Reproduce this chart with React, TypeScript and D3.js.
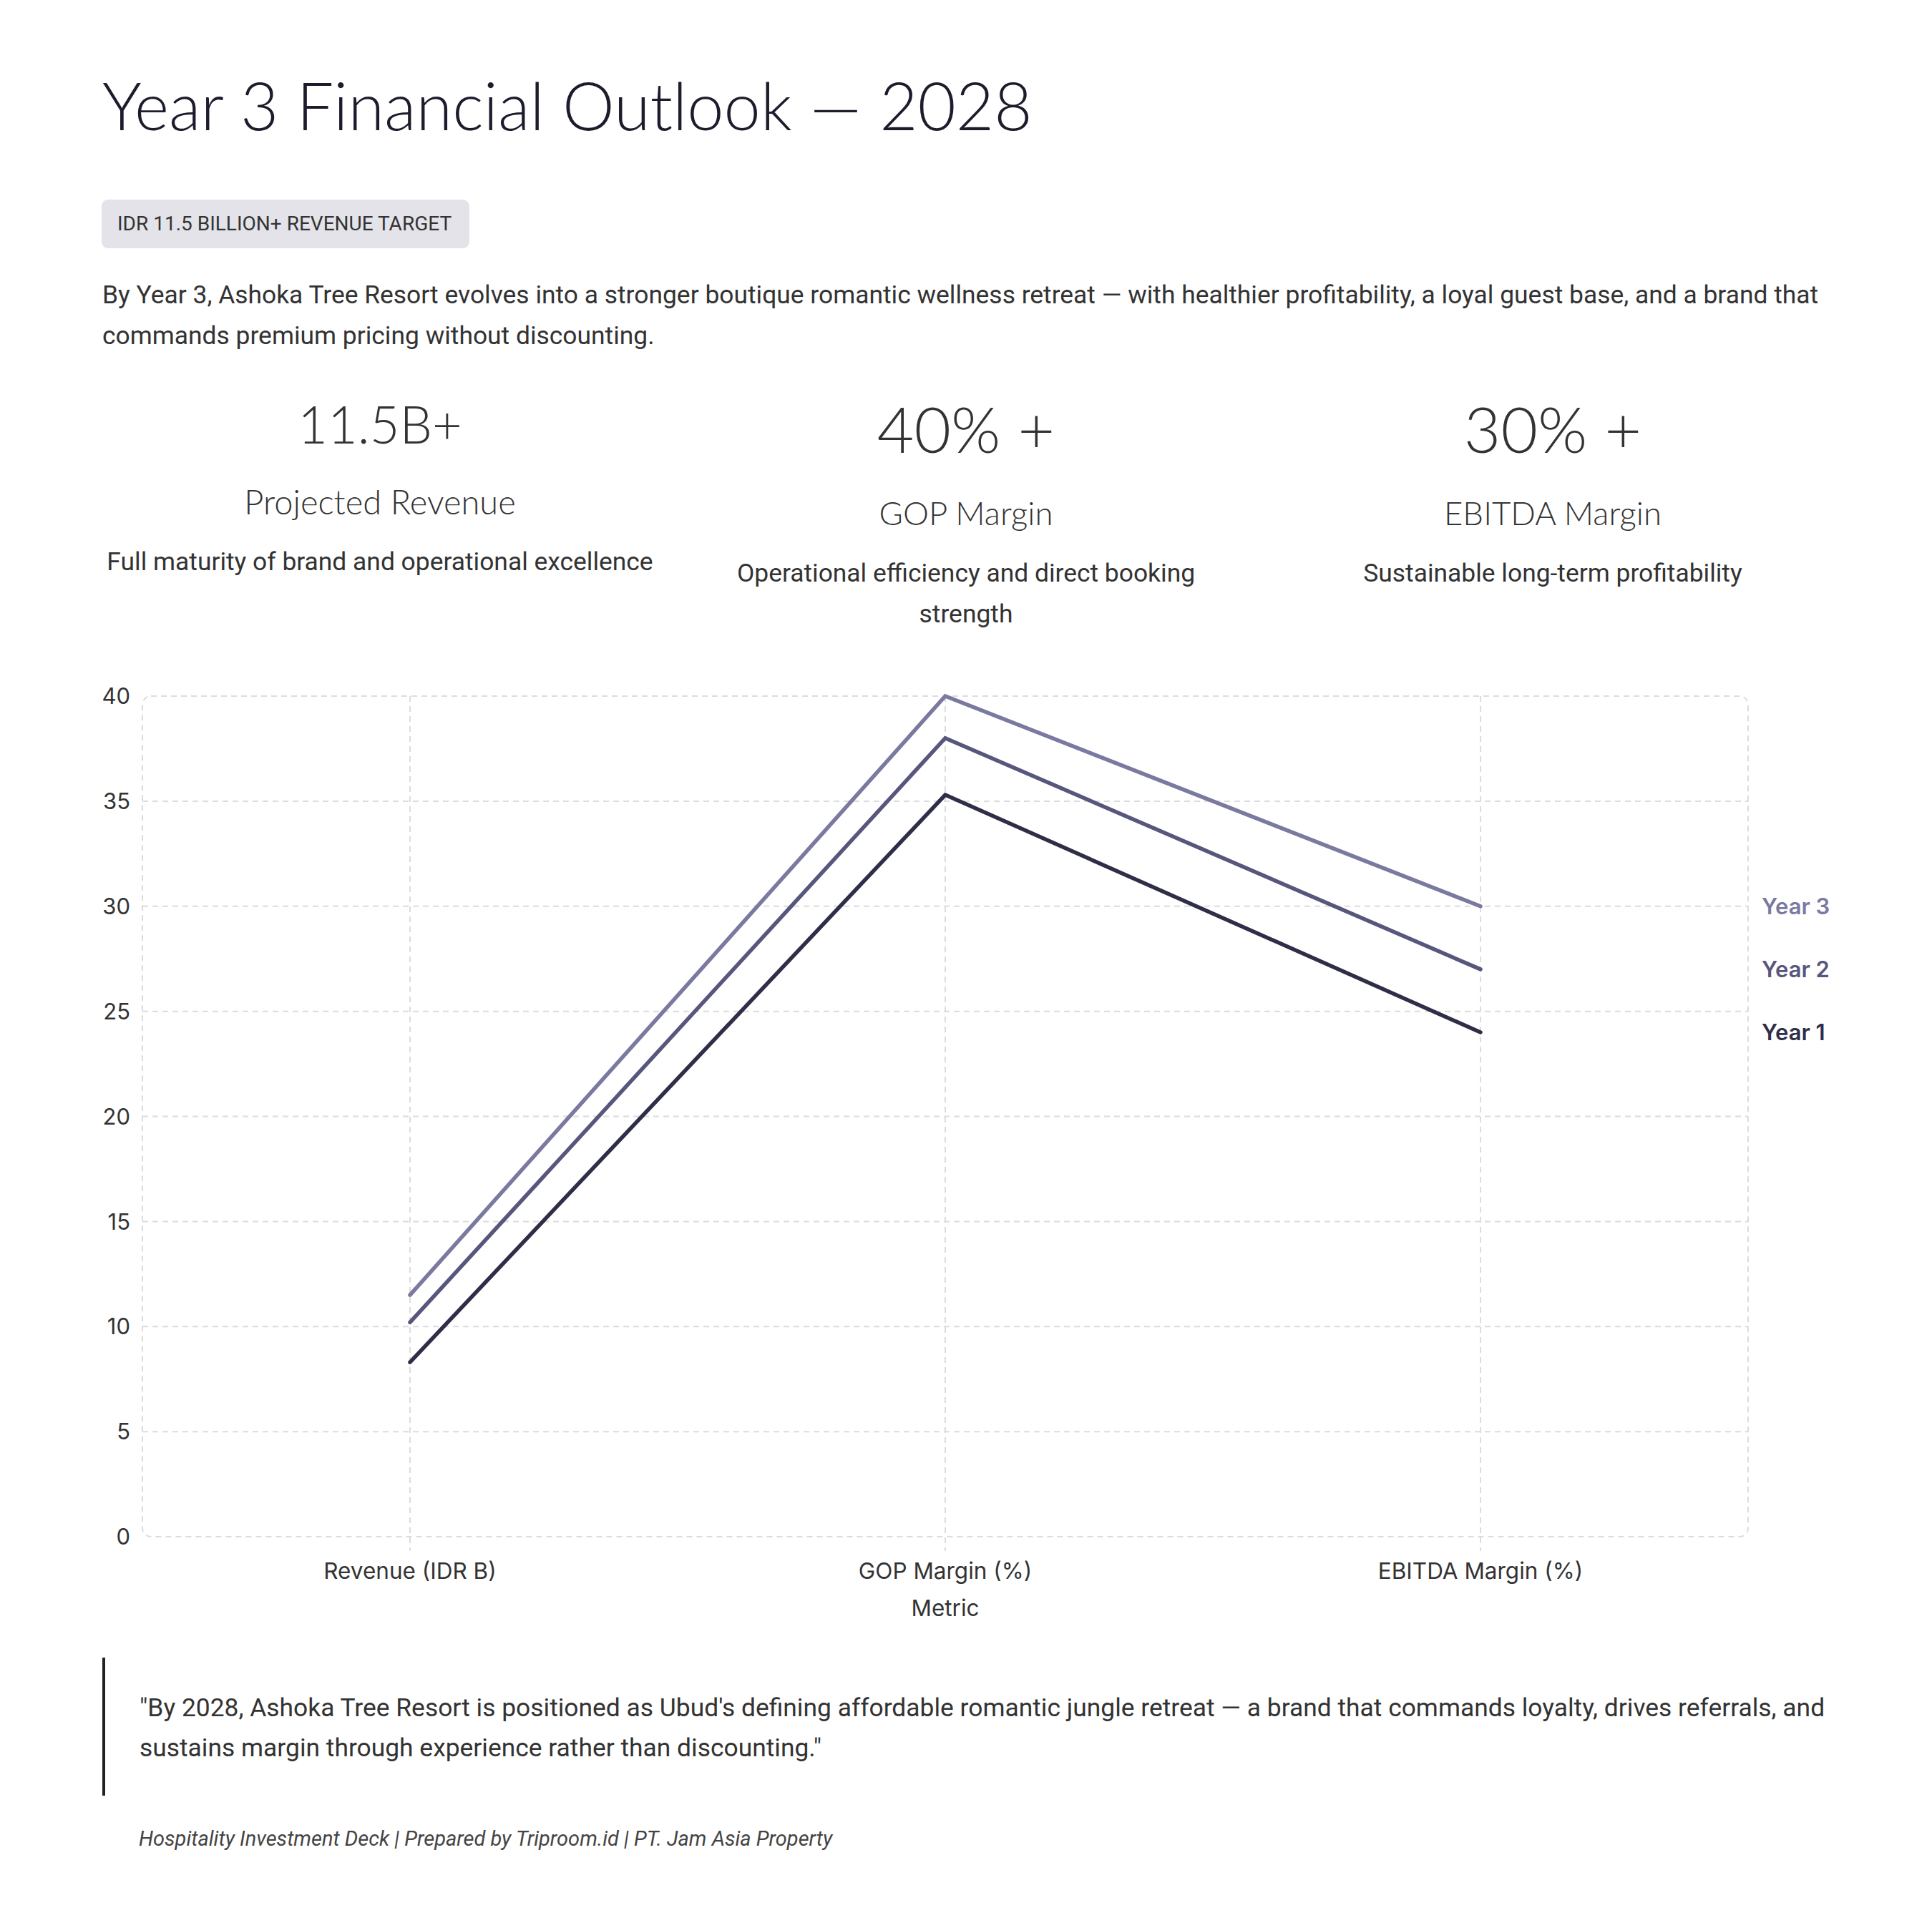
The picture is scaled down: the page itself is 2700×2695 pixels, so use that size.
import React from "react";
import * as d3 from "d3";

const categories = ["Revenue (IDR B)", "GOP Margin (%)", "EBITDA Margin (%)"];
const seriesNames = ["Year 1", "Year 2", "Year 3"];
const year1Values = [8.3, 35.3, 24];
const year2Values = [10.2, 38, 27];
const year3Values = [11.5, 40, 30];
const yTicks = [0, 5, 10, 15, 20, 25, 30, 35, 40];
const seriesColors = ["#2f2e48", "#57567c", "#7a7aa0"];

const kpiValues = ["11.5B+", "40% +", "30% +"];
const kpiLabels = ["Projected Revenue", "GOP Margin", "EBITDA Margin"];
const kpiDescs = [
  ["Full maturity of brand and operational excellence"],
  ["Operational efficiency and direct booking", "strength"],
  ["Sustainable long-term profitability"],
];

const W = 2700;
const H = 2695;
const plot = { left: 199, right: 2443, top: 973, bottom: 2148 };
const grid = "#dcdcdf";
const textDark = "#333333";
const sans = "Roboto, 'Noto Sans', sans-serif";
const display = "Lato, 'Open Sans', sans-serif";
const inter = "Inter, Roboto, sans-serif";

export default function App() {
  const x = d3.scalePoint<string>().domain(categories).range([plot.left, plot.right]).padding(0.5);
  const y = d3.scaleLinear().domain([0, 40]).range([plot.bottom, plot.top]);
  const allSeries = [year1Values, year2Values, year3Values];
  const line = d3
    .line<number>()
    .x((_, i) => x(categories[i]) as number)
    .y((d) => y(d));

  const kpiX = [531, 1350, 2170];
  const bigY = [620, 633, 633];
  const bigSize = [72, 89, 89];
  const labelY = [719, 734, 734];
  const labelSize = [47, 45.5, 45.5];
  const descY = [797, 813, 813];

  return (
    <div style={{ position: "absolute", left: 0, top: 0, width: W, height: H, background: "#fff" }}>
      <svg width={W} height={H} viewBox={`0 0 ${W} ${H}`} style={{ display: "block" }}>
        <rect x={0} y={0} width={W} height={H} fill="#ffffff" />
        {/* Title */}
        <text x={143} y={182} fontFamily={display} fontWeight={300} fontSize={92} fill="#1c1c2c">
          Year 3 Financial Outlook — 2028
        </text>
        {/* Badge */}
        <rect x={142} y={279} width={514} height={68} rx={9} fill="#e3e3e9" />
        <text x={164} y={322} fontFamily={sans} fontSize={28} fill={textDark}>
          IDR 11.5 BILLION+ REVENUE TARGET
        </text>
        {/* Paragraph */}
        <text fontFamily={sans} fontSize={35.4} fill={textDark}>
          <tspan x={143} y={424}>
            By Year 3, Ashoka Tree Resort evolves into a stronger boutique romantic wellness retreat — with healthier profitability, a loyal guest base, and a brand that
          </tspan>
          <tspan x={143} y={481}>commands premium pricing without discounting.</tspan>
        </text>
        {/* KPIs */}
        {kpiValues.map((v, i) => (
          <g key={v}>
            <text x={kpiX[i]} y={bigY[i]} textAnchor="middle" fontFamily={display} fontWeight={300} fontSize={bigSize[i]} fill="#333">
              {v}
            </text>
            <text x={kpiX[i]} y={labelY[i]} textAnchor="middle" fontFamily={display} fontWeight={300} fontSize={labelSize[i]} fill="#333">
              {kpiLabels[i]}
            </text>
            {kpiDescs[i].map((d, j) => (
              <text key={d} x={kpiX[i]} y={descY[i] + j * 57} textAnchor="middle" fontFamily={sans} fontSize={35.4} fill={textDark}>
                {d}
              </text>
            ))}
          </g>
        ))}
        {/* Chart grid */}
        {yTicks
          .filter((t) => t !== 0 && t !== 40)
          .map((t) => (
            <line key={t} x1={plot.left} x2={plot.right} y1={y(t)} y2={y(t)} stroke={grid} strokeWidth={2} strokeDasharray="8,6" />
          ))}
        {categories.map((c) => (
          <line key={c} x1={x(c)} x2={x(c)} y1={plot.top} y2={plot.bottom + 20} stroke={grid} strokeWidth={2} strokeDasharray="8,6" />
        ))}
        <rect
          x={plot.left}
          y={plot.top}
          width={plot.right - plot.left}
          height={plot.bottom - plot.top}
          rx={12}
          fill="none"
          stroke={grid}
          strokeWidth={2}
          strokeDasharray="8,6"
        />
        {/* Y tick labels */}
        {yTicks.map((t) => (
          <text key={t} x={182} y={y(t)} dy="0.36em" textAnchor="end" fontFamily={inter} fontSize={31} fill={textDark}>
            {t}
          </text>
        ))}
        {/* X labels */}
        {categories.map((c) => (
          <text key={c} x={x(c)} y={2207} textAnchor="middle" fontFamily={inter} fontSize={31.5} fill={textDark}>
            {c}
          </text>
        ))}
        <text x={(plot.left + plot.right) / 2} y={2259} textAnchor="middle" fontFamily={inter} fontSize={31.5} fill={textDark}>
          Metric
        </text>
        {/* Lines */}
        {allSeries.map((s, i) => (
          <path
            key={seriesNames[i]}
            d={line(s) as string}
            fill="none"
            stroke={seriesColors[i]}
            strokeWidth={5.5}
            strokeLinecap="round"
            strokeLinejoin="miter"
          />
        ))}
        {/* End labels */}
        {allSeries.map((s, i) => (
          <text
            key={seriesNames[i]}
            x={2462}
            y={y(s[s.length - 1])}
            dy="0.36em"
            fontFamily={inter}
            fontWeight={600}
            fontSize={31}
            fill={seriesColors[i]}
          >
            {seriesNames[i]}
          </text>
        ))}
        {/* Quote */}
        <rect x={143} y={2317} width={4} height={193} fill="#222" />
        <text fontFamily={sans} fontSize={35.4} fill={textDark}>
          <tspan x={195} y={2399}>
            "By 2028, Ashoka Tree Resort is positioned as Ubud's defining affordable romantic jungle retreat — a brand that commands loyalty, drives referrals, and
          </tspan>
          <tspan x={195} y={2455}>sustains margin through experience rather than discounting."</tspan>
        </text>
        <text x={194} y={2580} fontFamily={sans} fontStyle="italic" fontSize={29} fill="#444">
          Hospitality Investment Deck | Prepared by Triproom.id | PT. Jam Asia Property
        </text>
      </svg>
    </div>
  );
}
